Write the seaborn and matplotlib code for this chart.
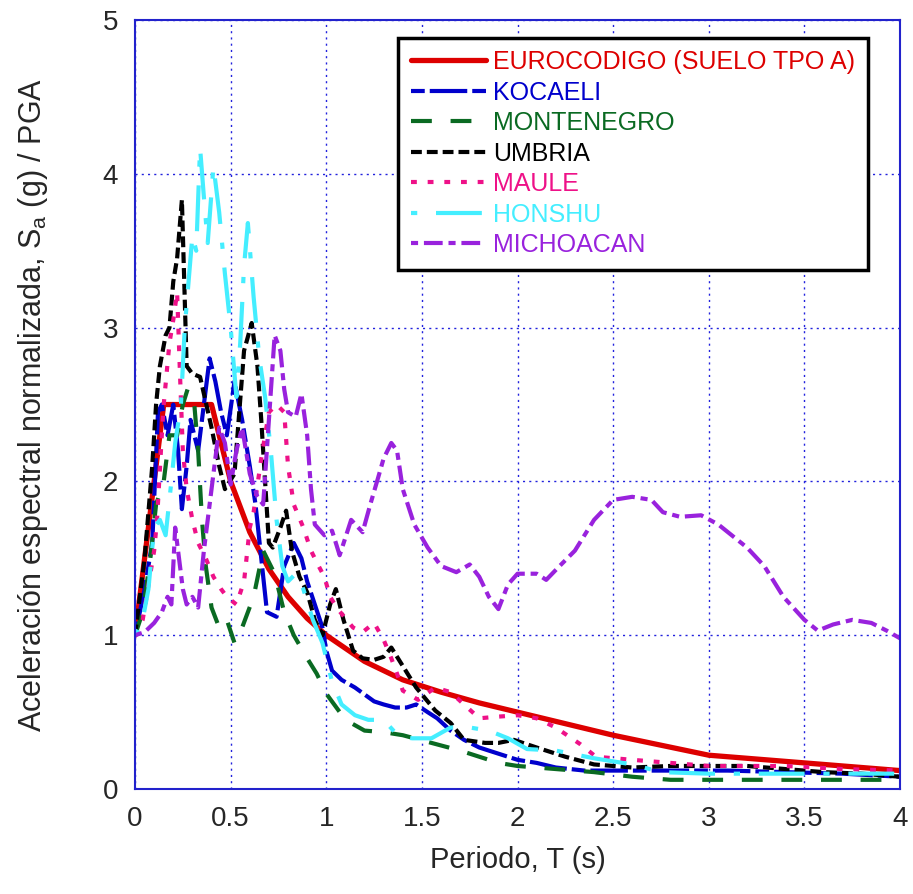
import numpy as np
import pandas as pd
import matplotlib
matplotlib.use("Agg")
import matplotlib.pyplot as plt
import seaborn as sns
from matplotlib.ticker import FuncFormatter

# ------------------------------------------------------------
# Datos: periodo T (s) y Sa/PGA
# ------------------------------------------------------------
t_euro = [0, 0.15, 0.4, 0.5, 0.6, 0.7, 0.8, 0.9, 1.0, 1.2, 1.4, 1.6, 1.8, 2.0, 2.5, 3.0, 4.0]
sa_euro = [1.0, 2.5, 2.5, 2.0, 1.67, 1.43, 1.25, 1.11, 1.0, 0.83, 0.71, 0.63, 0.56, 0.5, 0.35, 0.22, 0.12]

t_kocaeli = [0, 0.05, 0.09, 0.12, 0.14, 0.17, 0.2, 0.225, 0.245, 0.27, 0.29, 0.33, 0.36, 0.39,
             0.42, 0.45, 0.48, 0.52, 0.56, 0.6, 0.63, 0.66, 0.69, 0.74, 0.78, 0.83, 0.87, 0.9,
             0.94, 0.98, 1.0, 1.03, 1.08, 1.15, 1.25, 1.3, 1.36, 1.42, 1.47, 1.53, 1.58, 1.65,
             1.72, 1.8, 1.9, 2.0, 2.1, 2.2, 2.35, 2.5, 2.8, 3.1, 3.4, 3.7, 4.0]
sa_kocaeli = [1.0, 1.3, 1.6, 2.45, 2.5, 2.3, 2.5, 2.2, 1.82, 2.1, 2.4, 2.2, 2.5, 2.8,
              2.65, 2.45, 2.3, 2.65, 2.4, 2.1, 1.85, 1.5, 1.15, 1.12, 1.45, 1.6, 1.5, 1.35,
              1.2, 1.05, 0.9, 0.77, 0.71, 0.66, 0.57, 0.55, 0.53, 0.53, 0.55, 0.5, 0.46, 0.38,
              0.32, 0.27, 0.23, 0.19, 0.17, 0.14, 0.12, 0.12, 0.12, 0.12, 0.11, 0.1, 0.08]

t_monte = [0, 0.04, 0.08, 0.11, 0.15, 0.18, 0.22, 0.25, 0.275, 0.31, 0.33, 0.35, 0.37, 0.4,
           0.44, 0.48, 0.52, 0.56, 0.62, 0.67, 0.73, 0.78, 0.83, 0.9, 0.95, 1.0, 1.1, 1.2,
           1.3, 1.4, 1.55, 1.7, 1.8, 1.9, 2.0, 2.2, 2.4, 2.6, 2.8, 3.0, 3.5, 4.0]
sa_monte = [1.0, 1.15, 1.5, 1.85, 2.0, 2.3, 2.3, 2.5, 2.6, 2.5, 2.2, 1.75, 1.45, 1.18,
            1.05, 1.1, 0.95, 1.05, 1.25, 1.55, 1.4, 1.15, 1.0, 0.85, 0.75, 0.62, 0.45, 0.38,
            0.37, 0.35, 0.3, 0.25, 0.21, 0.17, 0.15, 0.13, 0.11, 0.08, 0.06, 0.06, 0.06, 0.06]

t_umbria = [0, 0.02, 0.05, 0.07, 0.09, 0.11, 0.13, 0.16, 0.18, 0.2, 0.22, 0.245, 0.27, 0.3,
            0.34, 0.4, 0.44, 0.47, 0.52, 0.57, 0.61, 0.64, 0.66, 0.68, 0.7, 0.72, 0.76, 0.79,
            0.82, 0.86, 0.9, 0.94, 0.98, 1.02, 1.05, 1.09, 1.14, 1.19, 1.25, 1.3, 1.34, 1.4,
            1.47, 1.57, 1.65, 1.72, 1.83, 1.9, 1.98, 2.1, 2.25, 2.4, 2.6, 2.8, 3.0, 3.2, 3.4,
            3.6, 3.8, 4.0]
sa_umbria = [1.0, 1.2, 1.5, 1.8, 2.1, 2.5, 2.75, 2.95, 3.0, 3.3, 3.45, 3.83, 2.75, 2.7,
             2.68, 2.35, 2.1, 1.95, 2.05, 2.85, 3.03, 2.75, 2.4, 2.0, 1.6, 1.57, 1.7, 1.81,
             1.55, 1.38, 1.28, 1.1, 1.0, 1.2, 1.3, 1.1, 0.9, 0.85, 0.84, 0.86, 0.92, 0.8,
             0.66, 0.51, 0.43, 0.32, 0.3, 0.3, 0.32, 0.27, 0.21, 0.16, 0.14, 0.15, 0.15, 0.15, 0.13,
             0.11, 0.1, 0.08]

t_maule = [0, 0.04, 0.08, 0.1, 0.115, 0.14, 0.15, 0.18, 0.2, 0.22, 0.235, 0.25, 0.27, 0.3,
           0.33, 0.37, 0.41, 0.45, 0.48, 0.53, 0.57, 0.6, 0.62, 0.66, 0.7, 0.74, 0.78, 0.8,
           0.83, 0.88, 0.92, 0.96, 0.99, 1.02, 1.06, 1.14, 1.19, 1.25, 1.3, 1.34, 1.37, 1.4,
           1.48, 1.57, 1.65, 1.72, 1.8, 1.89, 2.0, 2.1, 2.2, 2.33, 2.41, 2.6, 2.8, 3.0, 3.4,
           3.7, 4.0]
sa_maule = [1.0, 1.1, 1.4, 1.55, 1.75, 2.3, 2.5, 2.9, 3.05, 3.23, 2.7, 2.2, 1.95, 1.75,
            1.6, 1.5, 1.38, 1.3, 1.25, 1.2, 1.35, 1.7, 1.8, 2.15, 2.45, 2.5, 2.45, 2.1,
            1.85, 1.7, 1.55, 1.45, 1.38, 1.25, 1.17, 1.05, 1.02, 1.08, 0.97, 0.85, 0.75, 0.64,
            0.58, 0.66, 0.63, 0.55, 0.46, 0.47, 0.48, 0.46, 0.4, 0.29, 0.21, 0.19, 0.17, 0.15, 0.15,
            0.13, 0.12]

t_honshu = [0, 0.04, 0.07, 0.1, 0.13, 0.16, 0.19, 0.21, 0.24, 0.26, 0.28, 0.3, 0.32, 0.34,
            0.36, 0.38, 0.41, 0.44, 0.47, 0.5, 0.53, 0.55, 0.57, 0.59, 0.62, 0.65, 0.68, 0.71,
            0.74, 0.77, 0.8, 0.84, 0.88, 0.93, 0.98, 1.03, 1.08, 1.15, 1.22, 1.3, 1.38, 1.45,
            1.55, 1.65, 1.75, 1.85, 1.95, 2.05, 2.2, 2.4, 2.6, 2.75, 3.0, 3.3, 3.6, 4.0]
sa_honshu = [1.0, 1.1, 1.3, 1.7, 1.75, 1.65, 2.0, 2.25, 2.5, 3.0, 3.3, 3.6, 3.5, 4.17,
             3.85, 3.55, 4.05, 3.75, 3.35, 3.0, 2.55, 2.9, 3.4, 3.68, 3.2, 2.8, 2.55, 2.2,
             1.75, 1.45, 1.35, 1.4, 1.3, 1.1, 0.95, 0.7, 0.55, 0.48, 0.45, 0.45, 0.34, 0.33,
             0.33, 0.4, 0.4, 0.38, 0.33, 0.26, 0.25, 0.2, 0.16, 0.11, 0.1, 0.1, 0.1, 0.1]

t_michoacan = [0, 0.05, 0.1, 0.14, 0.17, 0.19, 0.21, 0.23, 0.25, 0.27, 0.3, 0.33, 0.36, 0.4,
               0.44, 0.47, 0.5, 0.53, 0.56, 0.6, 0.64, 0.67, 0.7, 0.73, 0.76, 0.78, 0.8, 0.84,
               0.87, 0.9, 0.92, 0.94, 0.99, 1.03, 1.07, 1.13, 1.19, 1.23, 1.27, 1.3, 1.34, 1.37,
               1.4, 1.46, 1.53, 1.6, 1.68, 1.75, 1.8, 1.85, 1.9, 1.95, 2.0, 2.1, 2.15, 2.22,
               2.3, 2.4, 2.5, 2.6, 2.7, 2.76, 2.85, 2.96, 3.05, 3.15, 3.2, 3.29, 3.39, 3.5,
               3.57, 3.65, 3.75, 3.85, 3.93, 4.0]
sa_michoacan = [1.0, 1.02, 1.08, 1.15, 1.25, 1.2, 1.7, 1.5, 1.3, 1.2, 1.25, 1.18, 1.55, 1.95,
                2.35, 2.25, 1.98, 2.2, 2.35, 2.05, 1.9, 1.85, 2.4, 2.95, 2.85, 2.6, 2.45, 2.42,
                2.57, 2.3, 1.95, 1.72, 1.65, 1.68, 1.52, 1.75, 1.67, 1.85, 2.02, 2.15, 2.25, 2.2,
                1.95, 1.72, 1.57, 1.45, 1.41, 1.46, 1.38, 1.25, 1.17, 1.33, 1.4, 1.4, 1.36, 1.45,
                1.55, 1.75, 1.88, 1.9, 1.88, 1.8, 1.77, 1.78, 1.72, 1.62, 1.57, 1.45, 1.25, 1.1,
                1.03, 1.07, 1.1, 1.08, 1.03, 0.98]

nombres = ["EUROCODIGO (SUELO TPO A)", "KOCAELI", "MONTENEGRO", "UMBRIA",
           "MAULE", "HONSHU", "MICHOACAN"]
periodos = [t_euro, t_kocaeli, t_monte, t_umbria, t_maule, t_honshu, t_michoacan]
valores = [sa_euro, sa_kocaeli, sa_monte, sa_umbria, sa_maule, sa_honshu, sa_michoacan]

colores = ["#dd0000", "#0000cc", "#0a6a22", "#000000", "#ee1188", "#44eeff", "#9922dd"]
estilos = ["-", (0, (3.3, 1.2, 9, 1.2)), (0, (5, 4.5)), (0, (2.6, 1.2)),
           (0, (1.4, 2.6)), (0, (1.5, 4.5, 11, 4.5)), (0, (1.7, 1.4, 4.5, 1.4))]
anchos = [3.8, 3.0, 3.0, 3.0, 3.0, 3.0, 3.0]

# ------------------------------------------------------------
# Figura
# ------------------------------------------------------------
sns.set_style("white")
plt.rcParams['font.family'] = ['Liberation Sans', 'DejaVu Sans']
plt.rcParams['mathtext.fontset'] = 'custom'
plt.rcParams['mathtext.rm'] = 'Liberation Sans'
plt.rcParams['mathtext.it'] = 'Liberation Sans'

fig = plt.figure(figsize=(9.13, 8.94), dpi=100)
ax = fig.add_axes([0.1479, 0.1174, 0.8379, 0.8602])

for nom, t, sa, col, ls, lw in zip(nombres, periodos, valores, colores, estilos, anchos):
    df = pd.DataFrame({"T": t, "Sa": sa})
    sns.lineplot(data=df, x="T", y="Sa", ax=ax, color=col, linestyle=ls,
                 linewidth=lw, label=nom, errorbar=None, sort=False)

ax.set_xlim(0, 4)
ax.set_ylim(0, 5)
ax.set_xticks(np.arange(0, 4.01, 0.5))
ax.set_yticks(np.arange(0, 5.01, 1))
ax.xaxis.set_major_formatter(FuncFormatter(lambda v, p: f"{v:g}"))
ax.yaxis.set_major_formatter(FuncFormatter(lambda v, p: f"{v:g}"))
ax.grid(True, color="#2222dd", linestyle=(0, (1.5, 3)), linewidth=1.0)
for s in ax.spines.values():
    s.set_color("#2222cc")
    s.set_linewidth(1.5)
ax.tick_params(direction="in", length=4, color="#2222cc", labelsize=20)
ax.tick_params(axis="x", pad=12)
ax.tick_params(axis="y", pad=12)

ax.set_xlabel("Periodo, T (s)", fontsize=21, labelpad=10)
ax.set_ylabel(r"Aceleración espectral normalizada, S$_\mathregular{a}$ (g) / PGA",
              fontsize=22, labelpad=38)

leg = ax.legend(loc="upper right", bbox_to_anchor=(0.958, 0.977), borderaxespad=0,
                fontsize=18, handlelength=3.0, handletextpad=0.3, labelspacing=0.26,
                fancybox=False, framealpha=1, edgecolor="black", borderpad=0.5)
leg.get_frame().set_linewidth(2.5)
for txt, col in zip(leg.get_texts(), colores):
    txt.set_color(col)

fig.savefig("out.png", dpi=100, facecolor="white")
